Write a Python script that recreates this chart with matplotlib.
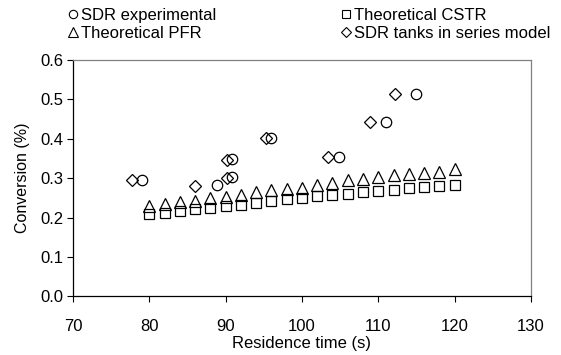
import matplotlib
matplotlib.use("Agg")
import matplotlib.pyplot as plt
from matplotlib.lines import Line2D

plt.rcParams['font.family'] = ['Liberation Sans', 'DejaVu Sans']

# residence time for the theoretical curves (s)
tau = [80, 82, 84, 86, 88, 90, 92, 94, 96, 98, 100,
       102, 104, 106, 108, 110, 112, 114, 116, 118, 120]
cstr = [0.208, 0.212, 0.216, 0.221, 0.225, 0.229, 0.233, 0.238, 0.242, 0.246, 0.249,
        0.254, 0.257, 0.261, 0.264, 0.267, 0.270, 0.275, 0.278, 0.280, 0.283]
pfr = [0.229, 0.234, 0.239, 0.243, 0.249, 0.253, 0.258, 0.264, 0.270, 0.273, 0.276,
       0.283, 0.288, 0.295, 0.298, 0.303, 0.307, 0.310, 0.314, 0.317, 0.324]

# SDR experimental
exp_x = [79.0, 88.9, 90.9, 90.9, 95.9, 104.9, 111.0, 114.9]
exp_y = [0.295, 0.282, 0.302, 0.348, 0.403, 0.353, 0.442, 0.514]

# SDR tanks in series model
tis_x = [77.8, 86.0, 90.2, 90.2, 95.3, 103.4, 108.9, 112.2]
tis_y = [0.295, 0.280, 0.300, 0.346, 0.403, 0.353, 0.443, 0.514]

fig = plt.figure(figsize=(5.61, 3.55), dpi=100)
ax = fig.add_axes([0.130, 0.165, 0.8165, 0.666])

ms = 7.5
mew = 0.9
ax.plot(exp_x, exp_y, 'o', ms=ms, mfc='none', mec='black', mew=mew)
ax.plot(tau, cstr, 's', ms=ms, mfc='none', mec='black', mew=mew)
ax.plot(tau, pfr, '^', ms=ms + 0.5, mfc='none', mec='black', mew=mew)
ax.plot(tis_x, tis_y, 'D', ms=ms - 1.5, mfc='none', mec='black', mew=mew)

ax.set_xlim(70, 130)
ax.set_ylim(0, 0.6)
ax.set_xticks([70, 80, 90, 100, 110, 120, 130])
ax.set_yticks([0.0, 0.1, 0.2, 0.3, 0.4, 0.5, 0.6])
ax.set_yticklabels([f"{v:.1f}" for v in ax.get_yticks()])
ax.tick_params(direction='out', length=4, width=0.8, labelsize=12, pad=3)
ax.tick_params(axis='x', pad=12)

for s in ['left', 'bottom']:
    ax.spines[s].set_color('black')
    ax.spines[s].set_linewidth(0.9)
for s in ['top', 'right']:
    ax.spines[s].set_color('#808080')
    ax.spines[s].set_linewidth(0.9)

ax.set_xlabel("Residence time (s)", fontsize=12, labelpad=2)
ax.set_ylabel("Conversion (%)", fontsize=11.5, labelpad=7)

handles = [
    Line2D([], [], ls='none', marker='o', ms=6, mfc='none', mec='black', mew=0.8),
    Line2D([], [], ls='none', marker='^', ms=6.5, mfc='none', mec='black', mew=0.8),
    Line2D([], [], ls='none', marker='s', ms=5.5, mfc='none', mec='black', mew=0.8),
    Line2D([], [], ls='none', marker='D', ms=5, mfc='none', mec='black', mew=0.8),
]
labels = ["SDR experimental", "Theoretical PFR",
          "Theoretical CSTR", "SDR tanks in series model"]
fig.legend(handles, labels, loc='upper left', bbox_to_anchor=(0.124, 0.978),
           ncol=2, frameon=False, fontsize=12, handlelength=0.4,
           handletextpad=0.3, columnspacing=7.55, labelspacing=0.2,
           borderaxespad=0, borderpad=0)

fig.savefig("out.png", dpi=100)
